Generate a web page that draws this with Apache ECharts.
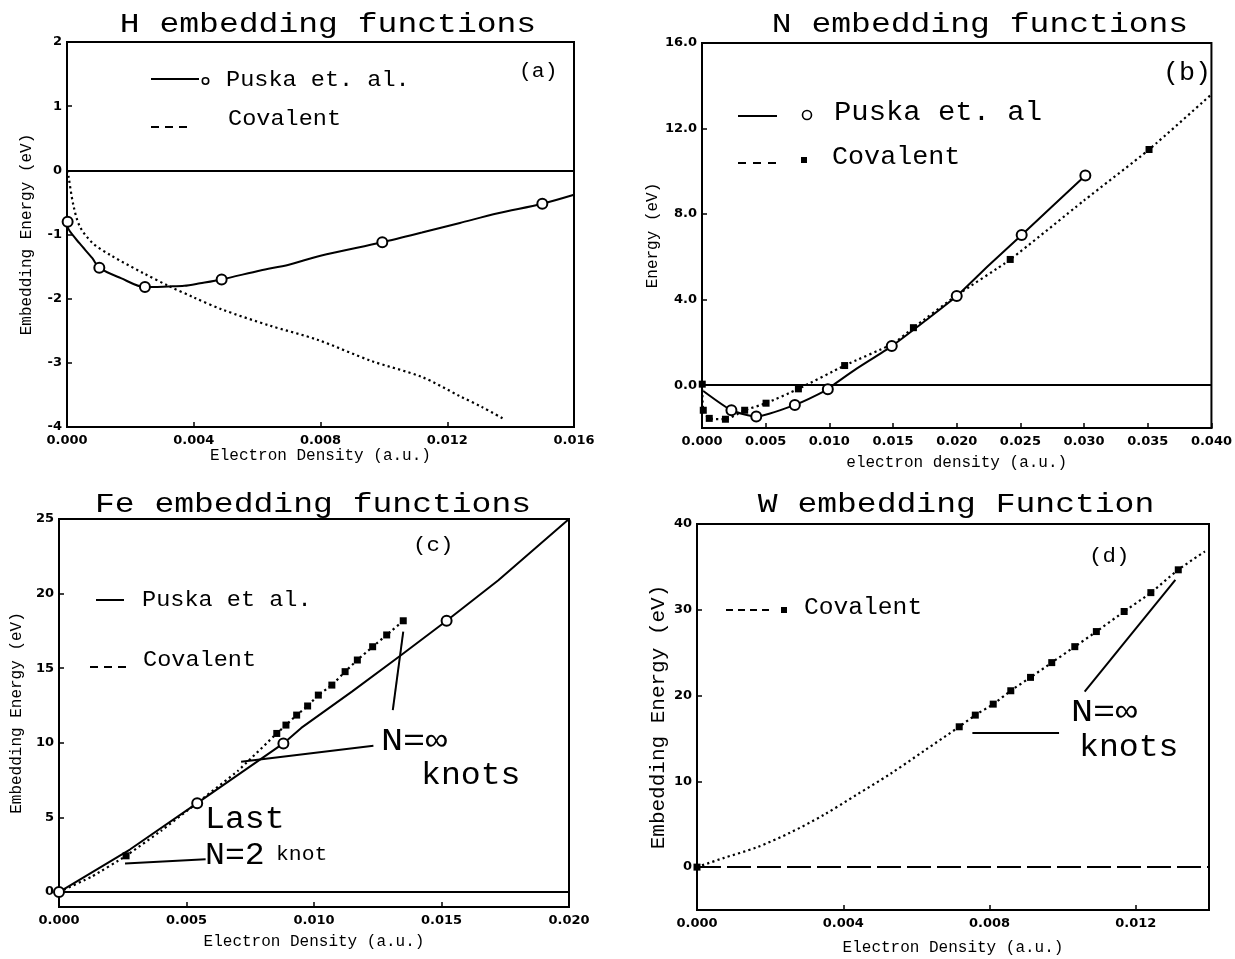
<!DOCTYPE html>
<html><head><meta charset="utf-8">
<script src="https://cdn.jsdelivr.net/npm/echarts@6/dist/echarts.min.js"></script>
<style>html,body{margin:0;padding:0;background:#fff}#c{width:1235px;height:959px}</style>
</head><body><div id="c"></div>
<script>
// ---------- (a) H embedding functions ----------
const hPuskaCurve = [[0,-0.80],[0.00005,-0.92],[0.0004,-1.14],[0.0008,-1.37],[0.00102,-1.52],[0.0017,-1.68],[0.00246,-1.82],[0.0032,-1.81],[0.0037,-1.80],[0.0042,-1.76],[0.00488,-1.70],[0.0061,-1.56],[0.0070,-1.47],[0.0080,-1.33],[0.00995,-1.12],[0.0112,-0.97],[0.0124,-0.82],[0.0136,-0.67],[0.0150,-0.52],[0.016,-0.38]];
const hPuskaKnots = [[0.00002,-0.80],[0.00102,-1.52],[0.00246,-1.82],[0.00488,-1.70],[0.00995,-1.12],[0.0150,-0.52]];
const hCovalentCurve = [[0.00002,0],[0.00005,-0.1],[0.0002,-0.54],[0.0004,-0.87],[0.0008,-1.13],[0.0014,-1.33],[0.0024,-1.6],[0.0032,-1.8],[0.004,-1.98],[0.0049,-2.17],[0.0064,-2.42],[0.0079,-2.64],[0.0096,-2.97],[0.0112,-3.22],[0.0124,-3.52],[0.0131,-3.69],[0.0138,-3.88]];
const aXTicks = [0,0.004,0.008,0.012,0.016];
const aYTicks = [-4,-3,-2,-1,0,1,2];

// ---------- (b) N embedding functions ----------
const nPuskaCurve = [[0.0001,-0.27],[0.00231,-1.17],[0.00426,-1.46],[0.00729,-0.92],[0.00988,-0.19],[0.0104,0.05],[0.012,0.72],[0.0149,1.83],[0.0175,3.0],[0.020,4.17],[0.0225,5.6],[0.0251,7.02],[0.0301,9.81]];
const nPuskaKnots = [[0.00231,-1.17],[0.00426,-1.46],[0.00729,-0.92],[0.00988,-0.19],[0.0149,1.83],[0.020,4.17],[0.0251,7.02],[0.0301,9.81]];
const nCovalentCurve = [[0.00002,0.05],[0.0001,-1.17],[0.00057,-1.55],[0.00184,-1.59],[0.00335,-1.17],[0.00503,-0.84],[0.00757,-0.17],[0.0112,0.92],[0.015,1.95],[0.0166,2.69],[0.020,4.2],[0.0242,5.88],[0.030,8.64],[0.0351,11.02],[0.040,13.6]];
const nCovalentKnots = [[0.00002,0.05],[0.0001,-1.17],[0.00057,-1.55],[0.00184,-1.59],[0.00335,-1.17],[0.00503,-0.84],[0.00757,-0.17],[0.0112,0.92],[0.0166,2.69],[0.0242,5.88],[0.0351,11.02]];
const bXTicks = [0,0.005,0.010,0.015,0.020,0.025,0.030,0.035,0.040];
const bYTicks = [0,4,8,12,16];

// ---------- (c) Fe embedding functions ----------
const fePuskaCurve = [[0,0],[0.00278,2.85],[0.00542,5.96],[0.0088,9.96],[0.0095,11.0],[0.0115,13.45],[0.01337,15.82],[0.0152,18.18],[0.01723,20.9],[0.020,25]];
const fePuskaKnots = [[0,0],[0.00542,5.96],[0.0088,9.96],[0.0152,18.18]];
const feCovalentCurve = [[0,0],[0.0013,1.05],[0.00263,2.43],[0.0040,4.1],[0.00542,5.98],[0.0070,8.1],[0.00854,10.63],[0.0089,11.19],[0.00932,11.86],[0.00975,12.47],[0.01017,13.2],[0.0107,13.87],[0.01122,14.77],[0.0117,15.55],[0.0123,16.44],[0.01285,17.23],[0.0135,18.18]];
const feCovalentKnots = [[0.00263,2.43],[0.00854,10.63],[0.0089,11.19],[0.00932,11.86],[0.00975,12.47],[0.01017,13.2],[0.0107,13.87],[0.01122,14.77],[0.0117,15.55],[0.0123,16.44],[0.01285,17.23],[0.0135,18.18]];
const fePointers = [[[0.01309,12.2],[0.0135,17.45]],[[0.00714,8.73],[0.01233,9.8]],[[0.00259,1.92],[0.00575,2.2]]];
const cXTicks = [0,0.005,0.010,0.015,0.020];
const cYTicks = [0,5,10,15,20,25];

// ---------- (d) W embedding Function ----------
const wCovalentCurve = [[0,0],[0.00072,1.05],[0.00163,2.3],[0.00254,4.0],[0.00345,6.05],[0.00437,8.45],[0.00528,10.85],[0.00619,13.5],[0.00717,16.36],[0.00761,17.72],[0.0081,19.0],[0.00858,20.56],[0.00912,22.12],[0.0097,23.84],[0.01033,25.7],[0.01092,27.46],[0.01168,29.8],[0.01241,32.0],[0.01316,34.66],[0.01389,36.8]];
const wCovalentKnots = [[0,0],[0.00717,16.36],[0.00761,17.72],[0.0081,19.0],[0.00858,20.56],[0.00912,22.12],[0.0097,23.84],[0.01033,25.7],[0.01092,27.46],[0.01168,29.8],[0.01241,32.0],[0.01316,34.66]];
const wPointers = [[[0.0106,20.45],[0.01308,33.5]],[[0.00753,15.7],[0.0099,15.7]]];
const dXTicks = [0,0.004,0.008,0.012];
const dYTicks = [0,10,20,30,40];

// ---------- helpers ----------
const MONO = "'Liberation Mono', 'DejaVu Sans Mono', monospace";
const LAB = "'DejaVu Sans', sans-serif";
function makeX(gi, min, max, ticks, digits, name, gap, size) {
  return {type:'value', gridIndex:gi, min, max,
    axisLine:{show:true,onZero:false,lineStyle:{color:'#000',width:2}},
    axisTick:{show:true,inside:true,length:5,customValues:ticks,lineStyle:{color:'#000',width:1.5}},
    axisLabel:{customValues:ticks,formatter:v=>Number(v).toFixed(digits),color:'#000',fontFamily:LAB,fontWeight:'bold',fontSize:13,margin:7},
    splitLine:{show:false},
    name, nameLocation:'middle', nameGap:gap, nameTextStyle:{color:'#000',fontFamily:MONO,fontSize:size}};
}
function makeY(gi, min, max, ticks, digits, name, gap, size) {
  return {type:'value', gridIndex:gi, min, max,
    axisLine:{show:true,onZero:false,lineStyle:{color:'#000',width:2}},
    axisTick:{show:true,inside:true,length:5,customValues:ticks,lineStyle:{color:'#000',width:1.5}},
    axisLabel:{customValues:ticks,formatter:v=>Number(v).toFixed(digits),color:'#000',fontFamily:LAB,fontWeight:'bold',fontSize:13,margin:5},
    splitLine:{show:false},
    name, nameLocation:'middle', nameRotate:90, nameGap:gap, nameTextStyle:{color:'#000',fontFamily:MONO,fontSize:size}};
}
const solid = {color:'#000', width:2};
const dotted = {color:'#000', width:2.2, type:[2.2,3.2]};
function marks(zeroType, pointers) {
  const data = [{yAxis:0, lineStyle:{type:zeroType}}];
  (pointers||[]).forEach(p => data.push([{coord:p[0]},{coord:p[1]}]));
  return {silent:true, symbol:['none','none'], label:{show:false}, animation:false,
    lineStyle:{color:'#000', width:2, type:'solid'}, data};
}
function curve(i, data, ls, extra) {
  return Object.assign({type:'line', xAxisIndex:i, yAxisIndex:i, data, showSymbol:false, smooth:0.3, lineStyle:ls, itemStyle:{color:'#000'}, z:3, silent:true}, extra||{});
}
function circles(i, data) {
  return {type:'scatter', xAxisIndex:i, yAxisIndex:i, data, symbol:'circle', symbolSize:10, silent:true,
    itemStyle:{color:'#fff', borderColor:'#000', borderWidth:2, opacity:1}, z:5};
}
function squares(i, data) {
  return {type:'scatter', xAxisIndex:i, yAxisIndex:i, data, symbol:'rect', symbolSize:7, silent:true,
    itemStyle:{color:'#000', opacity:1}, z:5};
}
function txt(x, y, s, size, sx, align) {
  return {type:'text', x, y, scaleX:sx||1.07, z:10,
    style:{text:s, font:size+'px '+MONO, fill:'#000', textAlign:align||'left', textVerticalAlign:'middle'}};
}
function seg(x1, y1, x2, y2, dash) {
  return {type:'line', z:10, shape:{x1,y1,x2,y2}, style:{stroke:'#000', lineWidth:2, lineDash:dash||null}};
}
function dot(cx, cy, r) {
  return {type:'circle', z:10, shape:{cx,cy,r}, style:{fill:'#fff', stroke:'#000', lineWidth:1.6}};
}
function sq(cx, cy, s) {
  return {type:'rect', z:10, shape:{x:cx-s/2,y:cy-s/2,width:s,height:s}, style:{fill:'#000'}};
}

const gridStyle = {show:true, borderColor:'#000', borderWidth:2, containLabel:false};
const option = {
  animation:false,
  backgroundColor:'#fff',
  grid:[
    Object.assign({left:67, top:42, width:507, height:385}, gridStyle),
    Object.assign({left:702, top:43, width:514, height:385}, gridStyle),
    Object.assign({left:59, top:519, width:510, height:388}, gridStyle),
    Object.assign({left:697, top:524, width:512, height:386}, gridStyle)
  ],
  xAxis:[
    makeX(0, 0, 0.016, aXTicks, 3, 'Electron Density (a.u.)', 20, 16),
    makeX(1, 0, 0.040, bXTicks, 3, 'electron density (a.u.)', 27, 16),
    makeX(2, 0, 0.020, cXTicks, 3, 'Electron Density (a.u.)', 27, 16),
    makeX(3, 0, 0.014, dXTicks, 3, 'Electron Density (a.u.)', 30, 16)
  ],
  yAxis:[
    makeY(0, -4, 2, aYTicks, 0, 'Embedding Energy (eV)', 32, 16),
    makeY(1, -2, 16, bYTicks, 1, 'Energy (eV)', 41, 16),
    makeY(2, -1, 25, cYTicks, 0, 'Embedding Energy (eV)', 34, 16),
    makeY(3, -5, 40, dYTicks, 0, 'Embedding Energy (eV)', 28, 21)
  ],
  series:[
    curve(0, hPuskaCurve, solid, {markLine:marks('solid')}),
    curve(0, hCovalentCurve, dotted),
    circles(0, hPuskaKnots),

    curve(1, nPuskaCurve, solid, {smooth:0.2, markLine:marks('solid')}),
    curve(1, nCovalentCurve, dotted, {smooth:0.2}),
    squares(1, nCovalentKnots),
    circles(1, nPuskaKnots),

    curve(2, fePuskaCurve, solid, {smooth:false, markLine:marks('solid', fePointers)}),
    curve(2, feCovalentCurve, dotted, {smooth:0.1}),
    squares(2, feCovalentKnots),
    circles(2, fePuskaKnots),

    curve(3, wCovalentCurve, dotted, {markLine:marks([24,6], wPointers)}),
    squares(3, wCovalentKnots)
  ],
  graphic:[
    txt(328, 25, 'H embedding functions', 28, 1.18, 'center'),
    txt(980, 25, 'N embedding functions', 28, 1.18, 'center'),
    txt(313, 505, 'Fe embedding functions', 28, 1.18, 'center'),
    txt(956, 505, 'W embedding Function', 28, 1.18, 'center'),
    // (a) legend
    seg(151, 79, 199, 79), dot(205.5, 81, 3.2), txt(226, 80, 'Puska et. al.', 22),
    seg(151, 127, 191, 127, [8,6]), txt(228, 119, 'Covalent', 22),
    txt(519, 72, '(a)', 20),
    // (b) legend
    seg(738, 116, 777, 116), dot(807, 115, 4.5), txt(834, 113, 'Puska et. al', 27),
    seg(738, 163, 777, 163, [8,7]), sq(804, 160, 6), txt(832, 157, 'Covalent', 25),
    txt(1163, 73, '(b)', 25),
    // (c) legend + notes
    seg(96, 600, 124, 600), txt(142, 600, 'Puska et al.', 22),
    seg(90, 667, 128, 667, [8,6]), txt(143, 660, 'Covalent', 22),
    txt(413, 545, '(c)', 21),
    txt(381, 742, 'N=\u221E', 32, 1.15), txt(421, 776, 'knots', 31),
    txt(205, 820, 'Last', 31), txt(205, 856, 'N=2', 31), txt(276, 855, 'knot', 20),
    // (d) legend + notes
    seg(726, 610, 771, 610, [7,5]), sq(784, 610, 6), txt(804, 608, 'Covalent', 23),
    txt(1089, 556, '(d)', 21),
    txt(1071, 713, 'N=\u221E', 32, 1.15), txt(1079, 748, 'knots', 31)
  ]
};
const chart = echarts.init(document.getElementById('c'), null, {renderer:'canvas'});
chart.setOption(option);
</script></body></html>
